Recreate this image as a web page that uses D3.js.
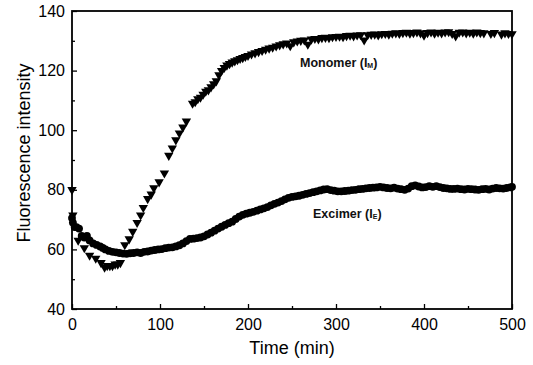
<!DOCTYPE html>
<html>
<head>
<meta charset="utf-8">
<script src="https://cdn.jsdelivr.net/npm/d3@7"></script>
<style>
    body { margin: 0; background: #fff; }
    svg { display: block; }
</style>
</head>
<body>
<div id="chart"></div>
<script>
const width = 533;
const height = 365;
const marginLeft = 72;
const marginRight = 21;
const marginTop = 11;
const marginBottom = 56;

// Monomer (I_M)
const monomerTime = [0, 1, 7, 14, 20, 27, 33, 37, 40, 43, 46, 49, 52, 55, 60, 65, 69, 74, 78, 81,
    86, 90, 93, 99, 105, 110, 114, 118, 122, 126, 130, 137, 140, 143, 146, 149, 152, 155, 158, 161,
    164, 167, 170, 173, 176, 179, 182, 185, 188, 191, 194, 197, 200, 204, 208, 212, 216, 220, 224, 228,
    232, 236, 240, 244, 248, 252, 256, 260, 264, 268, 272, 276, 280, 284, 288, 292, 296, 300, 304, 308,
    312, 316, 320, 324, 328, 332, 336, 340, 344, 348, 352, 356, 360, 364, 368, 372, 376, 380, 384, 388,
    392, 396, 400, 404, 408, 412, 416, 420, 424, 428, 432, 436, 440, 444, 448, 452, 456, 460, 464, 468,
    476, 480, 488, 492, 496, 500];
const monomerValue = [80, 71.5, 63, 60.5, 58, 57, 55.5, 54, 54.5, 54.5, 54.5, 55, 55, 55.5, 61.5, 63.5, 66, 69, 71.5, 74,
    77, 78.5, 80.6, 82.6, 85.6, 91.5, 94, 96.7, 99, 101, 103, 109, 109.5, 110.5, 111, 112, 113, 113.5, 114.5, 115.5,
    116.5, 118.5, 120, 121, 121.8, 122.3, 122.8, 123.2, 123.6, 124, 124.3, 124.7, 125, 125.5, 125.9, 126.3, 126.7, 127.1, 127.5, 127.8,
    128.2, 128.6, 128.9, 129.2, 128.3, 129.6, 129.9, 130.1, 130.2, 128.8, 130.5, 130.7, 130.6, 131, 131.1, 131, 131.3, 131.4, 131.5, 131.3,
    131.7, 131.8, 131.6, 131.9, 132, 130.2, 132, 132.1, 132.2, 131.9, 132.3, 132.4, 132.2, 132.5, 132.6, 132.4, 132.7, 132.8, 132.5, 132.7,
    132.9, 132.6, 131.8, 132.7, 132.9, 132.5, 132.8, 132.6, 132.9, 133, 132.4, 131.6, 132.8, 132.9, 132.6, 132.8, 132.5, 132.9, 132.7, 132.6,
    132.4, 132.7, 132.2, 132.6, 132.4, 132.3];

// Excimer (I_E)
const excimerTime = [0, 1, 3, 5, 8, 11, 14, 17, 20, 24, 28, 32, 35, 38, 42, 46, 50, 54, 58, 62,
    66, 70, 74, 78, 82, 86, 90, 94, 98, 102, 106, 110, 114, 118, 122, 126, 130, 134, 138, 142,
    146, 150, 154, 158, 162, 166, 170, 174, 178, 182, 186, 190, 194, 198, 202, 206, 210, 214, 218, 222,
    226, 230, 234, 238, 242, 246, 250, 254, 258, 262, 266, 270, 274, 278, 282, 286, 290, 294, 298, 302,
    306, 310, 314, 318, 322, 326, 330, 334, 338, 342, 346, 350, 354, 358, 362, 366, 370, 374, 378, 382,
    386, 390, 394, 398, 402, 406, 410, 414, 418, 422, 426, 430, 434, 438, 442, 446, 450, 454, 458, 462,
    466, 470, 474, 478, 482, 486, 490, 494, 498, 500];
const excimerValue = [70.5, 69, 67.5, 67.5, 67, 64.5, 64, 64.5, 63, 62, 61.5, 61, 60.5, 60, 59.5, 59.2, 59, 58.8, 58.6, 58.5,
    58.7, 58.8, 59, 58.8, 59.2, 59.3, 59.6, 59.8, 60, 60.1, 60.4, 60.6, 60.7, 61, 61.4, 62, 62.8, 63.5, 63.6, 63.8,
    64, 64.4, 65, 65.6, 66.3, 67, 67.6, 68.2, 68.8, 69.3, 70.2, 71, 71.6, 72, 72.3, 72.6, 73, 73.4, 73.8, 74.2,
    74.8, 75.3, 75.7, 76.2, 76.8, 77.3, 77.6, 77.8, 78, 78.3, 78.6, 78.9, 79.2, 79.5, 79.8, 80.1, 80.2, 79.9, 79.7, 79.5,
    79.5, 79.6, 79.7, 79.9, 80, 80.2, 80.3, 80.5, 80.6, 80.7, 80.8, 81, 80.8, 80.6, 80.5, 80.7, 80.4, 80.2, 80, 80.4,
    81.2, 81.5, 81.1, 80.8, 80.9, 81.2, 81, 81.2, 80.9, 80.6, 80.5, 80.3, 80.3, 80.4, 80.2, 80.1, 80.3, 80.2, 80.1, 80,
    80.2, 80.3, 80.1, 80.4, 80.6, 80.5, 80.4, 80.6, 80.8, 81];

const xTicks = [0, 100, 200, 300, 400, 500];
const xMinorTicks = [50, 150, 250, 350, 450];
const yTicks = [40, 60, 80, 100, 120, 140];
const yMinorTicks = [50, 70, 90, 110, 130];

const fontFamily = "'Liberation Sans', Arial, Helvetica, sans-serif";

var svg = d3.select("#chart").append("svg")
    .attr("width", width)
    .attr("height", height);

const x = d3.scaleLinear()
    .domain([0, 500])
    .range([marginLeft, width - marginRight]);

const y = d3.scaleLinear()
    .domain([40, 140])
    .range([height - marginBottom, marginTop]);

/**
 * Draws the frame with inward ticks
 */
function drawAxis() {
    const bottom = svg.append("g")
        .attr("transform", `translate(0,${y(40)})`)
        .style("font-family", fontFamily)
        .style("font-size", "16px")
        .call(d3.axisBottom(x).tickValues(xTicks).tickSizeInner(-5).tickSizeOuter(0).tickPadding(10));
    bottom.append("g")
        .call(d3.axisBottom(x).tickValues(xMinorTicks).tickSizeInner(-3).tickSizeOuter(0).tickFormat(""));

    const left = svg.append("g")
        .attr("transform", `translate(${x(0)},0)`)
        .style("font-family", fontFamily)
        .style("font-size", "16px")
        .call(d3.axisLeft(y).tickValues(yTicks).tickSizeInner(-5).tickSizeOuter(0).tickPadding(7));
    left.append("g")
        .call(d3.axisLeft(y).tickValues(yMinorTicks).tickSizeInner(-3).tickSizeOuter(0).tickFormat(""));

    svg.selectAll(".domain").remove();
    svg.selectAll(".tick line").attr("stroke", "#000").attr("stroke-width", 1.3);
    svg.selectAll(".tick text").attr("fill", "#000");

    svg.append("rect")
        .attr("x", x(0))
        .attr("y", y(140))
        .attr("width", x(500) - x(0))
        .attr("height", y(40) - y(140))
        .attr("fill", "none")
        .attr("stroke", "#000")
        .attr("stroke-width", 1.8);
}

/**
 * Draws the axis labels
 */
function drawAxisLabels() {
    svg.append("text")
        .attr("x", -153)
        .attr("y", 30)
        .attr("transform", "rotate(-90)")
        .text("Fluorescence intensity")
        .style("font-size", "18px")
        .style("text-anchor", "middle")
        .style("font-family", fontFamily);

    svg.append("text")
        .attr("x", (x(0) + x(500)) / 2)
        .attr("y", 354)
        .text("Time (min)")
        .style("font-size", "18px")
        .style("text-anchor", "middle")
        .style("font-family", fontFamily);
}

drawAxis();
drawAxisLabels();

const monomer = monomerTime.map((t, i) => ({t: t, v: monomerValue[i]}));
const excimer = excimerTime.map((t, i) => ({t: t, v: excimerValue[i]}));

const triangle = d3.symbol().type(d3.symbolTriangle).size(38);

// excimer circles
svg.append("g")
    .selectAll("circle")
    .data(excimer)
    .enter().append("circle")
    .attr("cx", d => x(d.t))
    .attr("cy", d => y(d.v))
    .attr("r", 3.9)
    .attr("fill", "#000");

// monomer triangles, pointing down
svg.append("g")
    .selectAll("path")
    .data(monomer)
    .enter().append("path")
    .attr("d", triangle)
    .attr("transform", d => `translate(${x(d.t)},${y(d.v)}) rotate(180)`)
    .attr("fill", "#000");

// series labels
function addLabel(px, py, main, sub) {
    const label = svg.append("text")
        .attr("x", px)
        .attr("y", py)
        .style("font-family", fontFamily)
        .style("font-weight", "bold")
        .style("font-size", "12.5px")
        .attr("fill", "#111");
    label.append("tspan").text(main + " (I");
    label.append("tspan").text(sub).style("font-size", "7px").attr("dy", 0.5);
    label.append("tspan").text(")").attr("dy", -0.5);
}

addLabel(300, 67, "Monomer", "M");
addLabel(313, 218, "Excimer", "E");
</script>
</body>
</html>
